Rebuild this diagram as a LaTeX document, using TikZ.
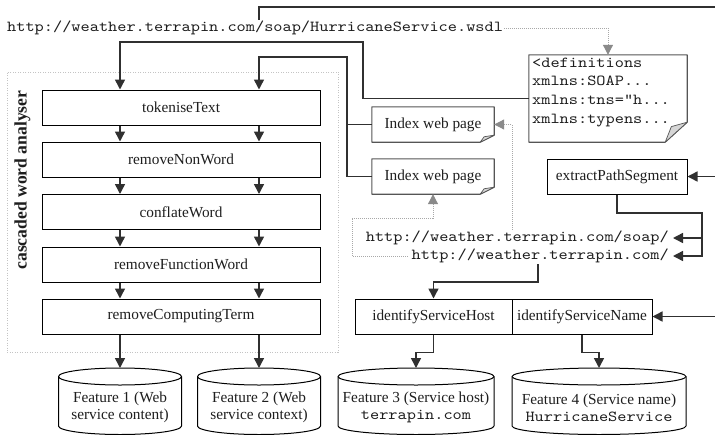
\documentclass[tikz,border=0pt]{standalone}
\usepackage{fontspec}
\setmainfont{Liberation Serif}
\setmonofont{lmmono10-regular.otf}[FakeStretch=1.143]
\usetikzlibrary{arrows.meta,calc}

\definecolor{ink}{HTML}{1E1E1E}
\definecolor{wire}{HTML}{303030}
\definecolor{pagegray}{HTML}{555555}
\definecolor{dotgray}{HTML}{A8A8A8}
\definecolor{tipgray}{HTML}{8A8A8A}
\definecolor{foldgray}{HTML}{D6D6D6}
\definecolor{framegray}{HTML}{C4C4C4}

% page outline with a folded bottom-right corner: node, fold width, fold height
\newcommand\dogear[3]{%
  \draw[draw=pagegray, line width=1.1pt, line join=round]
    (#1.north west) -- (#1.north east) -- ([yshift=#3]#1.south east)
    -- ([xshift=-#2]#1.south east) -- (#1.south west) -- cycle;
  \draw[draw=pagegray, line width=0.7pt, fill=foldgray, line join=round]
    ([xshift=-#2]#1.south east) -- ([yshift=#3]#1.south east)
    -- ([xshift=-0.72*#2, yshift=0.78*#3]#1.south east) -- cycle;
}

% data store drum: centre x, half width, name of its top point
\newcommand\drum[3]{%
  \draw[draw=black, line width=1pt, fill=white]
    (#1-#2,-376.5) -- (#1-#2,-426)
    arc[start angle=180, end angle=360, x radius=#2, y radius=8.5]
    -- (#1+#2,-376.5)
    arc[start angle=0, end angle=180, x radius=#2, y radius=8.5] -- cycle;
  \draw[draw=black, line width=1pt]
    (#1-#2,-376.5) arc[start angle=180, end angle=360, x radius=#2, y radius=8.5];
  \coordinate (#3) at (#1,-368);
}

\begin{document}
\begin{tikzpicture}[x=1pt, y=1pt,
  font=\fontsize{15.3}{17}\selectfont,
  box/.style={draw=black, line width=1pt, fill=white, minimum height=35pt,
    inner sep=0pt, text=ink},
  conn/.style={draw=wire, line width=1.5pt},
  arrowed/.style={-{Triangle[length=10pt, width=10pt]}},
  hint/.style={draw=dotgray, line width=1pt, dash pattern=on 1pt off 1pt,
    -{Triangle[length=10pt, width=10pt, color=tipgray, fill=tipgray]}},
  url/.style={font=\ttfamily\fontsize{15.3}{17}\selectfont, inner sep=1pt, text=ink},
  sheet/.style={minimum height=35pt, inner sep=0pt, text=ink},
]
\fill[white] (0,0) rectangle (715,-434);
\useasboundingbox (0,0) rectangle (715,-434);

% helper columns and off-picture ends
\coordinate (a1) at (120,0);
\coordinate (a2) at (259,0);
\coordinate (j363) at (363,-42);
\coordinate (j347) at (347,-57);
\coordinate (x512) at (512,0);
\coordinate (x538) at (538,0);
\coordinate (j702) at (702,-213);
\coordinate (r0) at (715,-7);
\coordinate (r1) at (715,-176.5);
\coordinate (r2) at (715,-316.5);

% cascaded word analyser
\node[draw=framegray, line width=1pt, dash pattern=on 1pt off 1.5pt,
  minimum width=331pt, minimum height=280pt, inner sep=0pt] (cwa) at (172.5,-212) {};
\node[rotate=90, font=\bfseries\fontsize{17.6}{20}\selectfont, text=ink] (lbl)
  at (22.5,-180) {cascaded word analyser};

\node[box, minimum width=278pt] (tok) at (181,-107.5) {tokeniseText};
\node[box, minimum width=278pt] (rnw) at (181,-159.5) {removeNonWord};
\node[box, minimum width=278pt] (cfw) at (181,-212) {conflateWord};
\node[box, minimum width=278pt] (rfw) at (181,-264.5) {removeFunctionWord};
\node[box, minimum width=278pt] (rct) at (181,-316.5) {removeComputingTerm};

\foreach \u/\v in {tok/rnw, rnw/cfw, cfw/rfw, rfw/rct} {
  \draw[conn, arrowed] (a1 |- \u.south) -- (a1 |- \v.north);
  \draw[conn, arrowed] (a2 |- \u.south) -- (a2 |- \v.north);
}

% URLs
\node[url, anchor=west] (url1) at (6,-28)
  {http://weather.terrapin.com/soap/HurricaneService.wsdl};
\node[url, anchor=east, inner xsep=4pt] (url2) at (673,-238)
  {http://weather.terrapin.com/soap/};
\node[url, anchor=east, inner xsep=4pt] (url3) at (673,-256)
  {http://weather.terrapin.com/};

% documents
\node[sheet, minimum width=122pt] (idx1) at (433,-124.5) {Index web page};
\node[sheet, minimum width=122pt] (idx2) at (433,-176.5) {Index web page};
\dogear{idx1}{14pt}{7pt}
\dogear{idx2}{14pt}{7pt}

\node[sheet, minimum width=158pt, minimum height=87pt] (defs) at (608,-98.5) {};
\dogear{defs}{22pt}{20pt}
\node[url, anchor=north west, align=left,
  font=\ttfamily\fontsize{15.3}{18.7}\selectfont] (defsText) at (531,-56.5)
  {<definitions\\xmlns:SOAP...\\xmlns:tns="h...\\xmlns:typens...};

% host / name analysis
\node[box, minimum width=140pt] (ext) at (617,-176.5) {extractPathSegment};
\node[box, minimum width=157pt] (ish) at (433.5,-316.5) {identifyServiceHost};
\node[box, minimum width=140pt] (isn) at (582,-316.5) {identifyServiceName};

% feature stores
\drum{120}{61.5}{f1top}
\drum{259}{61.5}{f2top}
\drum{416}{78}{f3top}
\drum{599}{87}{f4top}
\node[align=center, text=ink, inner sep=0pt] (f1) at (120,-407.5)
  {Feature 1 (Web\\service content)};
\node[align=center, text=ink, inner sep=0pt] (f2) at (259,-407.5)
  {Feature 2 (Web\\service context)};
\node[align=center, text=ink, inner sep=0pt] (f3) at (416,-407.5)
  {Feature 3 (Service host)\\{\ttfamily terrapin.com}};
\node[align=center, text=ink, inner sep=0pt] (f4) at (599,-407.5)
  {Feature 4 (Service name)\\{\ttfamily HurricaneService}};

% solid connectors
\draw[conn] (a2 |- url1.north) |- (r0);
\draw[conn, arrowed] (defs.west) -| (j363) -| (a1 |- tok.north);
\draw[conn, arrowed] (idx2.west) -| (j347) -| (a2 |- tok.north);
\draw[conn] (idx1.west) -- (idx1.west -| j347);
\draw[conn, arrowed] (r1) -- (ext.east);
\draw[conn, arrowed] (ext.south) |- (j702) |- (url3.east);
\draw[conn, arrowed] (j702 |- url2.east) -- (url2.east);
\draw[conn, arrowed] (x538 |- url3.south) -- (538,-282) -| (ish.north);
\draw[conn, arrowed] (r2) -- (isn.east);
\draw[conn, arrowed] (a1 |- rct.south) -- (f1top);
\draw[conn, arrowed] (a2 |- rct.south) -- (f2top);
\draw[conn, arrowed] (ish.south) -- ++(0,-18) -| (f3top);
\draw[conn, arrowed] (isn.south) -- ++(0,-18) -| (f4top);

% dotted look-up hints
\draw[hint] (url1.east) -| (defs.north);
\draw[hint] (x512 |- url2.north) |- (idx1.east);
\draw[hint] (url3.west) -| (352,-218) -| (idx2.south);
\end{tikzpicture}
\end{document}
